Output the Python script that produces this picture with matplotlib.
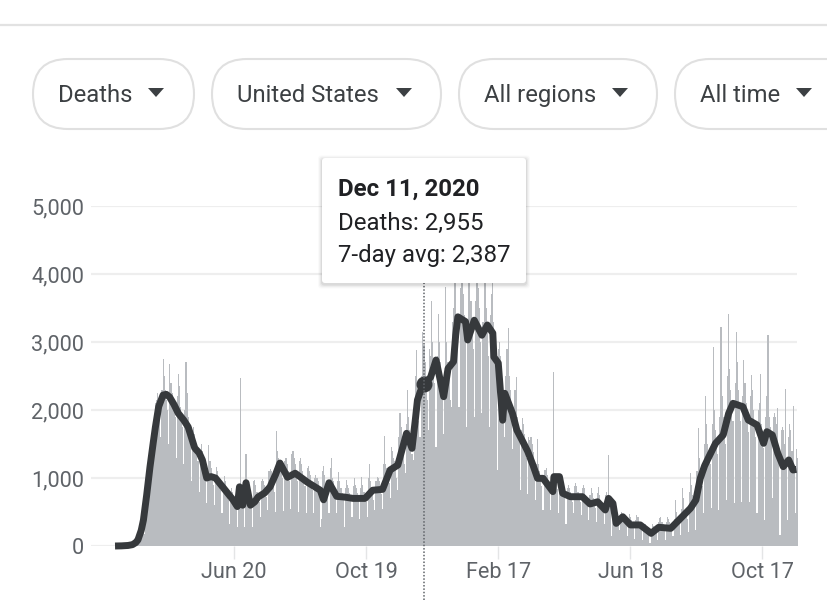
import matplotlib
matplotlib.use("Agg")
import matplotlib.pyplot as plt
from matplotlib.patches import FancyBboxPatch, Polygon
import pandas as pd

plt.rcParams['font.family'] = ['Roboto', 'DejaVu Sans']

W, H = 828, 611

# daily deaths, one row per week starting Mar 3 2020
deaths_by_week = [
    [0, 1, 1, 2, 1, 3, 2], [3, 5, 8, 6, 8, 10, 8], [10, 20, 30, 25, 40, 45, 35],
    [50, 90, 140, 170, 200, 220, 180], [350, 500, 900, 950, 1100, 1250, 1300],
    [1500, 1800, 2100, 2150, 2250, 2050, 1900], [1600, 2300, 2750, 2500, 2300, 2150, 2000],
    [1500, 2670, 2400, 2400, 2250, 2100, 1900], [1300, 2200, 2530, 2350, 2050, 1950, 1750],
    [1200, 2000, 2700, 2250, 1900, 1700, 1550], [950, 1400, 1750, 1650, 1500, 1400, 1250],
    [800, 1250, 1500, 1400, 1300, 1200, 1050], [630, 1150, 1480, 1250, 1150, 1000, 900],
    [600, 1050, 1160, 1100, 1000, 900, 820], [480, 900, 1030, 950, 850, 780, 680],
    [330, 700, 850, 800, 700, 640, 560], [280, 800, 800, 2470, 800, 720, 620],
    [280, 1360, 900, 850, 800, 720, 620], [280, 950, 970, 900, 800, 720, 640],
    [430, 960, 990, 950, 900, 820, 720], [530, 1100, 1130, 1100, 1000, 920, 800],
    [500, 1690, 1400, 1300, 1250, 1150, 1000], [520, 1250, 1300, 1300, 1200, 1100, 950],
    [550, 1350, 1400, 1300, 1200, 1100, 950], [500, 1250, 1300, 1200, 1100, 1000, 880],
    [490, 1150, 1170, 1100, 1050, 950, 820], [480, 1000, 1050, 1000, 950, 860, 280],
    [400, 1100, 1170, 1050, 900, 820, 720], [480, 1150, 1290, 1000, 950, 860, 760],
    [480, 950, 1090, 950, 850, 780, 680], [285, 850, 970, 900, 850, 780, 680],
    [430, 880, 1000, 900, 850, 780, 680], [400, 850, 1010, 900, 800, 740, 640],
    [430, 1000, 1200, 950, 850, 780, 680], [530, 950, 1020, 1000, 950, 860, 760],
    [550, 1200, 1620, 1200, 1150, 1050, 920], [700, 1460, 1400, 1300, 1250, 1150, 1000],
    [820, 1600, 1950, 1750, 1500, 1380, 1200], [1070, 1800, 2300, 1900, 1700, 1560, 1360],
    [1260, 2000, 2500, 2880, 2000, 1840, 1600], [1600, 2500, 3150, 2955, 2700, 2480, 2150],
    [1700, 2900, 2800, 3600, 3000, 2750, 2400], [1460, 2800, 3410, 3000, 2700, 2480, 2150],
    [1650, 2500, 3810, 3000, 2700, 2480, 2150], [2050, 3300, 3500, 3900, 4400, 3300, 2900],
    [2050, 3800, 4100, 4400, 3700, 3400, 3000], [1750, 3300, 4400, 3900, 3600, 3300, 2900],
    [1900, 3600, 4000, 4400, 3800, 3500, 3000], [1950, 3300, 4100, 4400, 3500, 3200, 2800],
    [1750, 3400, 3700, 4400, 3300, 3000, 2600], [1120, 2900, 3000, 2800, 2600, 2400, 2100],
    [1600, 2500, 2900, 3200, 2500, 2300, 2000], [1430, 2000, 2300, 2300, 2480, 1900, 1650],
    [820, 1700, 1880, 1800, 1650, 1500, 1300], [770, 1600, 1560, 1600, 1500, 1380, 1200],
    [680, 1200, 1580, 1200, 1100, 1000, 880], [530, 1120, 1120, 1150, 1050, 960, 840],
    [530, 1050, 1000, 2560, 1050, 960, 840], [480, 1050, 1000, 950, 900, 820, 720],
    [330, 850, 900, 850, 800, 740, 640], [480, 880, 930, 880, 800, 740, 640],
    [455, 850, 900, 850, 750, 690, 600], [380, 750, 850, 780, 700, 640, 560],
    [360, 780, 870, 750, 650, 600, 520], [330, 750, 800, 700, 1340, 640, 560],
    [150, 500, 580, 500, 450, 410, 360], [235, 450, 500, 470, 400, 370, 320],
    [150, 400, 465, 420, 380, 350, 300], [110, 380, 455, 420, 350, 320, 280],
    [90, 300, 330, 320, 300, 280, 240], [50, 250, 330, 300, 280, 260, 220],
    [90, 350, 405, 430, 350, 320, 280], [90, 350, 430, 400, 350, 320, 280],
    [140, 400, 676, 500, 420, 390, 340], [160, 550, 850, 700, 500, 460, 400],
    [200, 800, 1080, 900, 750, 690, 600], [235, 1100, 1730, 1300, 1100, 1000, 880],
    [480, 1500, 2200, 1800, 1500, 1380, 1200], [555, 1800, 2930, 2000, 1700, 1560, 1360],
    [530, 1900, 3225, 2200, 1900, 1750, 1500], [680, 2500, 3410, 2600, 2300, 2100, 1840],
    [630, 2400, 3150, 2700, 2300, 2100, 1840], [650, 2200, 2735, 2400, 2100, 1930, 1680],
    [650, 2200, 2515, 2300, 2000, 1840, 1600], [480, 2000, 2100, 2530, 1800, 1650, 1440],
    [380, 1900, 2200, 3100, 1900, 1750, 1520], [700, 1900, 1950, 1900, 1800, 2025, 1440],
    [160, 1700, 1750, 1700, 1500, 2310, 1200], [380, 1600, 1800, 1700, 1400, 2060, 1120],
    [480, 1420, 1300],
]

# 7-day average, read at the bends of the line (days since Mar 3 2020)
avg_days = [0, 6, 12, 16, 19, 21, 24, 26, 29, 32, 35, 37, 40, 44, 47, 50, 54, 58, 63, 67, 73,
            77, 80, 84, 88, 92, 98, 103, 108, 112, 114, 117, 120, 124, 128, 131, 137, 142,
            147, 151, 158, 165, 171, 176, 182, 188, 191, 196, 203, 210, 218, 229, 236,
            245, 252, 259, 267, 272, 275, 277, 280, 283, 289, 294, 301, 305, 310, 312, 314,
            321, 323, 329, 336, 341, 346, 347, 351, 355, 357, 364, 368, 373, 378, 383, 387,
            392, 401, 402, 407, 410, 417, 428, 435, 442, 449, 452, 456, 459, 465, 472, 481,
            491, 498, 509, 518, 527, 532, 536, 540, 544, 550, 557, 562, 566, 575, 580, 588,
            594, 597, 602, 607, 612, 617, 621, 624]
avg_values = [0, 2, 8, 20, 50, 90, 230, 380, 750, 1160, 1520, 1750, 2050, 2220, 2230, 2190,
              2080, 1950, 1850, 1750, 1440, 1370, 1265, 1000, 1020, 1000, 880, 780, 680, 580,
              870, 600, 930, 600, 650, 720, 780, 870, 1050, 1220, 1010, 1070, 1000, 940, 880,
              820, 680, 930, 730, 720, 700, 700, 820, 833, 1118, 1190, 1657, 1436, 1850, 2147,
              2290, 2387, 2480, 2735, 2196, 2610, 2710, 3100, 3370, 3300, 3030, 3320, 3100,
              3250, 3130, 2780, 2690, 1850, 2245, 1950, 1705, 1550, 1390, 1180, 995, 995, 800,
              1020, 1020, 775, 725, 725, 618, 650, 530, 700, 627, 333, 430, 310, 310, 186,
              275, 260, 407, 554, 676, 995, 1180, 1314, 1510, 1632, 1950, 2098, 2049, 1853,
              1780, 1510, 1681, 1632, 1363, 1167, 1265, 1118, 1127]

y_ticks = [0, 1000, 2000, 3000, 4000, 5000]
y_labels = ['0', '1,000', '2,000', '3,000', '4,000', '5,000']
x_tick_dates = ['2020-06-20', '2020-10-19', '2021-02-17', '2021-06-18', '2021-10-17']
x_tick_labels = ['Jun 20', 'Oct 19', 'Feb 17', 'Jun 18', 'Oct 17']
filters = ['Deaths', 'United States', 'All regions', 'All time']
tooltip_date = '2020-12-11'
tooltip_avg = 2387
tooltip_lines = ['Dec 11, 2020', 'Deaths: 2,955', '7-day avg: 2,387']

start = pd.Timestamp('2020-03-03')
deaths = [v for row in deaths_by_week for v in row]
bar_dates = pd.date_range(start, periods=len(deaths))
avg_dates = [start + pd.Timedelta(days=d) for d in avg_days]

fig = plt.figure(figsize=(W / 100, H / 100), dpi=100, facecolor='white')

# chart area, pixel box x 91-797, y 206-546
ax = fig.add_axes([91 / W, 1 - 546 / H, (797 - 91) / W, (546 - 206) / H])
ax.bar(bar_dates, deaths, width=1.0, color='#b9bcc0', linewidth=0, zorder=2, clip_on=False)
ax.plot(avg_dates, avg_values, color='#36393c', lw=5.0, zorder=4, clip_on=False,
        solid_joinstyle='round', solid_capstyle='butt')
ax.plot([pd.Timestamp(tooltip_date)], [tooltip_avg], 'o', color='#36393c', ms=10.5, zorder=5)
ax.set_ylim(0, 5000)
ax.set_xlim(start - pd.Timedelta(days=22), start + pd.Timedelta(days=624.6))
ax.axvline(pd.Timestamp(tooltip_date), ymin=-0.16, ymax=1, color='#5f6368', lw=1.1,
           ls=(0, (1, 1.2)), zorder=6, clip_on=False)

ax.set_yticks(y_ticks)
ax.set_yticklabels(y_labels, fontsize=15.6, color='#5f6368')
ax.set_xticks(pd.to_datetime(x_tick_dates))
ax.set_xticklabels(x_tick_labels, fontsize=15.6, color='#5f6368')
ax.tick_params(axis='y', length=0, pad=5)
ax.tick_params(axis='x', length=9, width=1, color='#e4e5e6', pad=2.5)
ax.grid(axis='y', color='#eeeeee', lw=1.6, zorder=0)
ax.set_axisbelow(True)
for s in ax.spines.values():
    s.set_visible(False)

# page furniture drawn in pixel coordinates on top
top = fig.add_axes([0, 0, 1, 1], facecolor='none')
top.set_xlim(0, W)
top.set_ylim(H, 0)
top.axis('off')
top.plot([0, W], [25, 25], color='#e2e2e2', lw=1.6)

chip_x = [33, 212, 459, 675]
chip_w = [161, 229, 198, 200]
text_x = [58, 237, 484, 700]
arrow_x = [156, 404, 620, 804]
for i, name in enumerate(filters):
    top.add_patch(FancyBboxPatch((chip_x[i] + 35, 59 + 35), chip_w[i] - 70, 0,
                                 boxstyle='round,pad=35,rounding_size=35', fc='white',
                                 ec='#e0e0e0', lw=1.5))
    top.text(text_x[i], 93, name, fontsize=17.2, color='#3c4043', va='center_baseline')
    top.add_patch(Polygon([(arrow_x[i] - 8, 88), (arrow_x[i] + 8, 88), (arrow_x[i], 97)],
                          fc='#3c4043', ec='none'))

# tooltip with a soft shadow
for grow, alpha in [(4, 0.02), (3, 0.03), (2, 0.04), (1, 0.06)]:
    top.add_patch(FancyBboxPatch((322 - grow, 158 - grow + 1.5), 204 + 2 * grow, 125 + 2 * grow,
                                 boxstyle='round,pad=0,rounding_size=3', fc='black', ec='none',
                                 alpha=alpha, zorder=7))
top.add_patch(FancyBboxPatch((322, 158), 204, 125, boxstyle='round,pad=0,rounding_size=3',
                             fc='white', ec='none', zorder=8))
top.text(338, 187, tooltip_lines[0], fontsize=17.3, fontweight='bold', color='#202124',
         va='center_baseline', zorder=9)
top.text(338, 221, tooltip_lines[1], fontsize=17.3, color='#202124', va='center_baseline', zorder=9)
top.text(338, 253, tooltip_lines[2], fontsize=17.3, color='#202124', va='center_baseline', zorder=9)

fig.savefig('out.png', dpi=100)
